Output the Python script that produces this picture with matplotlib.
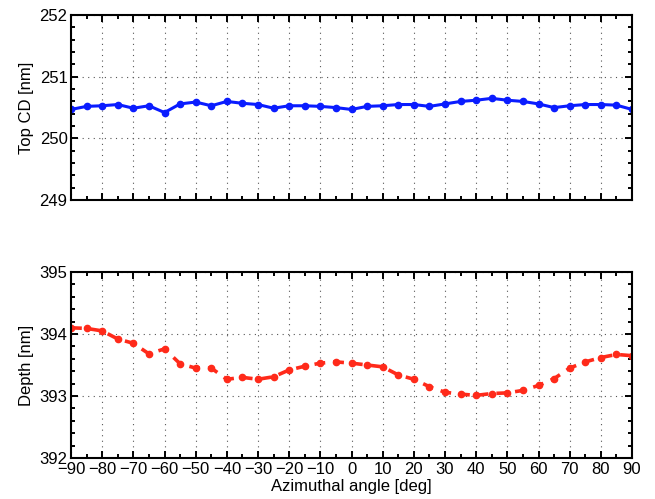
import matplotlib
matplotlib.use("Agg")
import matplotlib.pyplot as plt
from matplotlib.ticker import MultipleLocator
import numpy as np

"""Chart data"""
angle = list(range(-90, 91, 5))
top_cd = [250.47, 250.52, 250.53, 250.55, 250.49, 250.53, 250.42, 250.56, 250.59, 250.53,
          250.60, 250.57, 250.55, 250.49, 250.53, 250.53, 250.52, 250.50, 250.47,
          250.52, 250.53, 250.55, 250.55, 250.52, 250.56, 250.60, 250.62, 250.65,
          250.62, 250.60, 250.56, 250.50, 250.53, 250.55, 250.55, 250.54, 250.47]
depth = [394.10, 394.09, 394.05, 393.92, 393.85, 393.68, 393.76, 393.52, 393.45, 393.45,
         393.27, 393.30, 393.27, 393.31, 393.42, 393.48, 393.53, 393.55, 393.53,
         393.50, 393.47, 393.34, 393.27, 393.15, 393.06, 393.03, 393.01, 393.04,
         393.05, 393.09, 393.17, 393.28, 393.45, 393.55, 393.62, 393.67, 393.65]

plt.rcParams['font.family'] = ['Liberation Sans', 'DejaVu Sans']
plt.rcParams['font.size'] = 12

fig = plt.figure(figsize=(6.55, 4.99), dpi=100)
ax1 = fig.add_axes([0.1084, 0.599, 0.8565, 0.3707])
ax2 = fig.add_axes([0.1084, 0.0822, 0.8565, 0.3727])

ax1.plot(angle, top_cd, '-o', color='#0a1cff', lw=2.2, ms=4.5)
ax2.plot(angle, depth, '--o', color='#ff2a1a', lw=2.6, ms=4.5, dashes=(3, 2.2))

for ax in (ax1, ax2):
    ax.set_xlim(-90, 90)
    ax.xaxis.set_major_locator(MultipleLocator(10))
    ax.xaxis.set_minor_locator(MultipleLocator(5))
    ax.yaxis.set_major_locator(MultipleLocator(1))
    ax.yaxis.set_minor_locator(MultipleLocator(0.2))
    ax.tick_params(which='both', direction='in', top=True, right=True, width=1.4)
    ax.tick_params(which='major', length=5, labelsize=12)
    ax.tick_params(which='minor', length=3)
    ax.tick_params(axis='y', pad=2.5)
    ax.grid(True, which='major', linestyle=(0, (1, 4)), color='#555555', lw=0.8)
    for s in ax.spines.values():
        s.set_linewidth(1.5)

ax1.set_ylim(249, 252)
ax1.set_xticklabels([])
ax1.set_ylabel('Top CD [nm]', labelpad=4)

ax2.set_ylim(392, 395)
ax2.set_ylabel('Depth [nm]', labelpad=4)
ax2.set_xlabel('Azimuthal angle [deg]', labelpad=1)
ax2.tick_params(axis='x', pad=3)

fig.savefig('out.png', dpi=100)
